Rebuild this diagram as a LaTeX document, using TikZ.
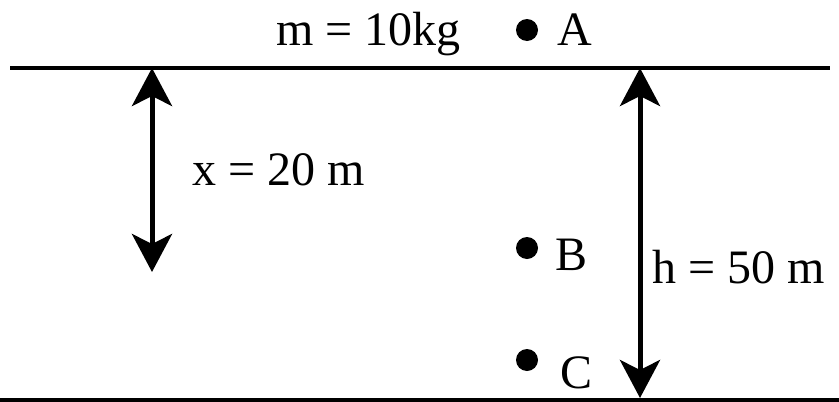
\documentclass[tikz,border=0pt]{standalone}
\usepackage{fontspec}
\setmainfont{Liberation Serif}
\usetikzlibrary{arrows.meta}
\begin{document}
\begin{tikzpicture}[x=1pt,y=-1pt,
  lbl/.style={inner sep=0pt,anchor=base west,font=\fontsize{48}{52}\selectfont},
  dot/.style={circle,fill=black,inner sep=0pt,minimum size=22pt},
  gline/.style={line width=4pt},
  dim/.style={line width=5pt,{Stealth[length=38pt,width=40pt,inset=10pt]}-{Stealth[length=38pt,width=40pt,inset=10pt]}}]
\useasboundingbox (0,0) rectangle (839,402);
\coordinate (t1) at (10,68);
\coordinate (t2) at (830,68);
\coordinate (b1) at (0,400);
\coordinate (b2) at (839,400);
\draw[gline] (t1) -- (t2);
\draw[gline] (b1) -- (b2);
\coordinate (xa) at (152,68);
\coordinate (xb) at (152,272);
\coordinate (ha) at (640,68);
\coordinate (hb) at (640,398);
\draw[dim] (xa) -- (xb);
\draw[dim] (ha) -- (hb);
\node[dot] (A) at (527,30) {};
\node[dot] (B) at (527,248) {};
\node[dot] (C) at (527,360) {};
\node[lbl] (mlbl) at (276,45) {m = 10kg};
\node[lbl] (Albl) at (557,45) {A};
\node[lbl] (Blbl) at (555,270) {B};
\node[lbl] (Clbl) at (560,388) {C};
\node[lbl] (xlbl) at (192,185) {x = 20 m};
\node[lbl] (hlbl) at (652,283) {h = 50 m};
\end{tikzpicture}
\end{document}
